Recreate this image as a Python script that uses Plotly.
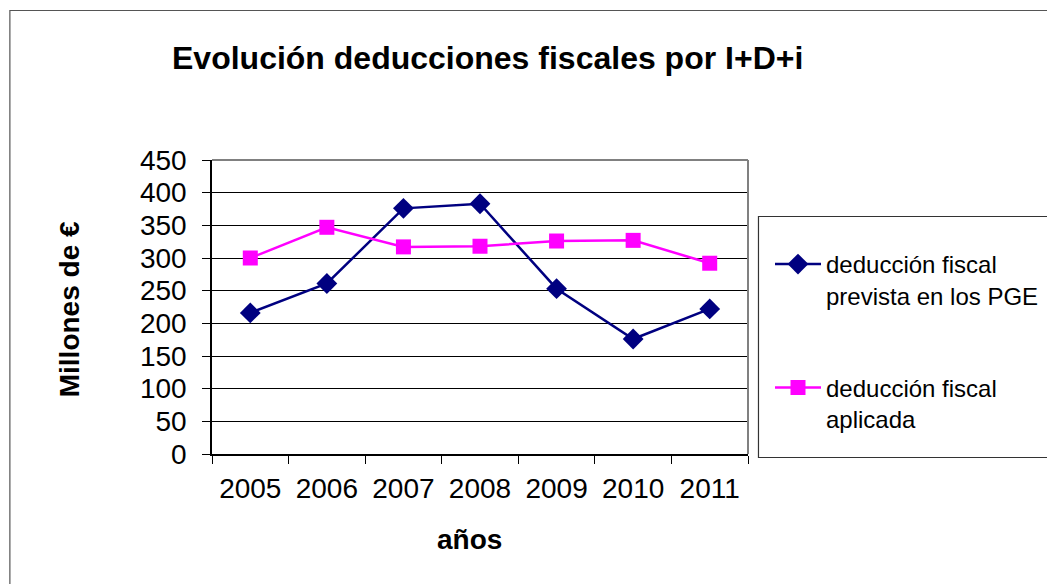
import plotly.graph_objects as go

years = ["2005", "2006", "2007", "2008", "2009", "2010", "2011"]
prevista = [216, 261, 376, 383, 253, 176, 222]
aplicada = [300, 347, 317, 318, 326, 327, 292]
series_names = ["deducción fiscal<br>prevista en los PGE", "deducción fiscal<br>aplicada"]
y_ticks = [0, 50, 100, 150, 200, 250, 300, 350, 400, 450]

# page body margin offsets the figure by 8px
OFF = 8
W, H = 1055 - OFF, 584 - OFF
# plot area in reference (window) pixel coords
L, R, T, B = 212, 749, 160, 454
FONT = "Liberation Sans, Arial, sans-serif"


def px(x):
    return (x - L) / (R - L)


def py(y):
    return (B - y) / (B - T)


fig = go.Figure()
fig.add_trace(go.Scatter(
    x=years, y=prevista, name=series_names[0], mode="lines+markers",
    line=dict(color="#000080", width=2.5),
    marker=dict(symbol="diamond", size=16, color="#000080"),
    legendgroup="a",
))
fig.add_trace(go.Scatter(
    x=years, y=aplicada, name=series_names[1], mode="lines+markers",
    line=dict(color="#FF00FF", width=2.5),
    marker=dict(symbol="square", size=15, color="#FF00FF"),
    legendgroup="b",
))

fig.update_layout(
    width=W, height=H,
    margin=dict(l=L - OFF, r=1055 - R, t=T - OFF, b=584 - B, pad=0),
    paper_bgcolor="white", plot_bgcolor="white",
    font=dict(family=FONT, color="black"),
    showlegend=True,
    legend=dict(
        x=px(770), y=py(242), xanchor="left", yanchor="top",
        font=dict(size=24, family=FONT, color="black"),
        bgcolor="rgba(0,0,0,0)", borderwidth=0,
        tracegroupgap=58, valign="top", itemwidth=46,
    ),
    xaxis=dict(
        type="category", range=[-0.5, 6.5], tickson="boundaries",
        ticks="outside", ticklen=8, tickcolor="black", tickwidth=1,
        showline=True, linecolor="black", linewidth=1.5,
        showgrid=False, zeroline=False,
        tickfont=dict(size=28, family=FONT, color="black"),
        ticklabelstandoff=9,
    ),
    yaxis=dict(
        range=[0, 450], tickvals=y_ticks,
        ticks="outside", ticklen=8, tickcolor="black", tickwidth=1,
        showline=True, linecolor="black", linewidth=1.5,
        showgrid=True, gridcolor="black", gridwidth=1, zeroline=False,
        tickfont=dict(size=28, family=FONT, color="black"),
        ticklabelstandoff=10,
    ),
    shapes=[
        # outer chart border (left & top visible)
        dict(type="rect", xref="paper", yref="paper",
             x0=px(9.5), x1=px(1080), y0=py(10.5), y1=py(600),
             line=dict(color="#555555", width=1.2), fillcolor="rgba(0,0,0,0)", layer="below"),
        # plot area top & right borders
        dict(type="line", xref="paper", yref="paper", x0=0, x1=1, y0=1, y1=1,
             line=dict(color="#808080", width=2)),
        dict(type="line", xref="paper", yref="paper", x0=1, x1=1, y0=0, y1=1,
             line=dict(color="#808080", width=2)),
        # legend box
        dict(type="rect", xref="paper", yref="paper",
             x0=px(759.5), x1=px(1050.5), y0=py(216.5), y1=py(457.5),
             line=dict(color="#333333", width=1.2), fillcolor="rgba(0,0,0,0)"),
    ],
    annotations=[
        dict(text="<b>Evolución deducciones fiscales por I+D+i</b>",
             xref="paper", yref="paper", x=px(488), y=py(58),
             showarrow=False, xanchor="center", yanchor="middle",
             font=dict(size=32, family=FONT, color="black")),
        dict(text="<b>Millones de €</b>",
             xref="paper", yref="paper", x=px(69), y=py(309),
             showarrow=False, textangle=-90, xanchor="center", yanchor="middle",
             font=dict(size=28, family=FONT, color="black")),
        dict(text="<b>años</b>",
             xref="paper", yref="paper", x=px(470), y=py(539),
             showarrow=False, xanchor="center", yanchor="middle",
             font=dict(size=28, family=FONT, color="black")),
    ],
)

fig.write_html("out.html")
